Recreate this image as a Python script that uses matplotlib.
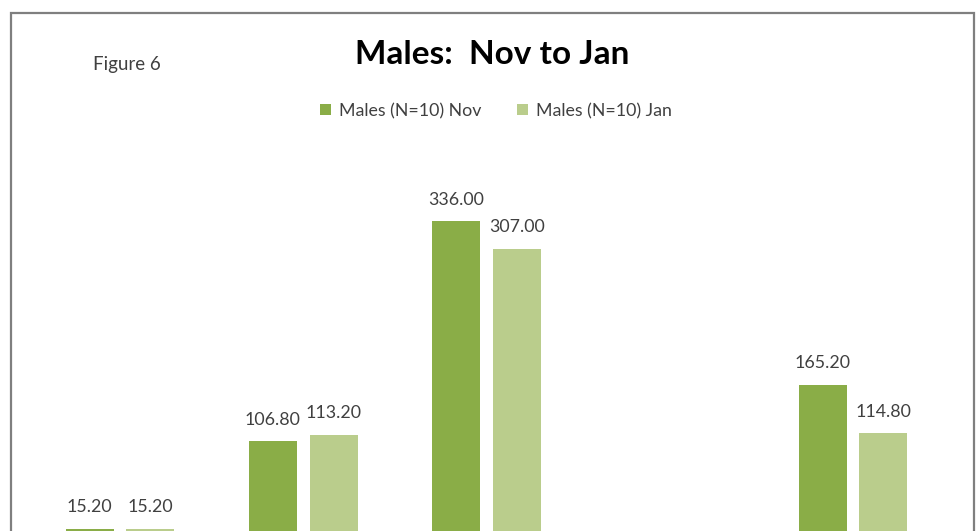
import matplotlib.pyplot as plt
import numpy as np
from matplotlib.patches import Rectangle

# values per group (4th group has no bars in the chart)
NOV = [15.20, 106.80, 336.00, np.nan, 165.20]
JAN = [15.20, 113.20, 307.00, np.nan, 114.80]
SERIES = ["Males (N=10) Nov", "Males (N=10) Jan"]
TITLE = "Males:  Nov to Jan"
NOTE = "Figure 6"

COLORS = ["#8aad47", "#bacd8c"]
TEXT = "#404040"
W, H = 978, 531

plt.rcParams["font.family"] = ["Lato", "DejaVu Sans"]

fig = plt.figure(figsize=(W / 100, H / 100), dpi=100)


def px_box(x0, y0, x1, y1):
    return [x0 / W, 1 - y1 / H, (x1 - x0) / W, (y1 - y0) / H]


# plot area runs below the visible crop, as in the reference
ax = fig.add_axes(px_box(28.4, 150, 944.6, 543.6))
x = np.arange(len(NOV))
width = 0.262
offset = 0.166
for vals, sign, color, label in ((NOV, -1, COLORS[0], SERIES[0]),
                                 (JAN, 1, COLORS[1], SERIES[1])):
    bars = ax.bar(x + sign * offset, vals, width=width, color=color, label=label)
    for bar, v in zip(bars, vals):
        if np.isnan(v):
            continue
        ax.annotate(f"{v:.2f}", (bar.get_x() + bar.get_width() / 2, v),
                    xytext=(0, 15.5), textcoords="offset points",
                    ha="center", va="center", fontsize=12.8, color=TEXT)
ax.set_xlim(-0.5, len(NOV) - 0.5)
ax.set_ylim(0, 410)
ax.axis("off")

fig.text(492 / W, 1 - 55 / H, TITLE, ha="center", va="center",
         fontsize=24, fontweight="bold", color="black")
fig.text(127 / W, 1 - 65 / H, NOTE, ha="center", va="center",
         fontsize=13.5, color=TEXT)

handles, labels = ax.get_legend_handles_labels()
fig.legend(handles, labels, loc="center", bbox_to_anchor=(496 / W, 1 - 111 / H),
           ncol=2, frameon=False, fontsize=12.8, handlelength=0.6, handleheight=0.6,
           handletextpad=0.45, columnspacing=2.0, labelcolor=TEXT)

fig.add_artist(Rectangle((11 / W, -0.05), (974 - 11) / W, 1.05 - 13 / H,
                         transform=fig.transFigure, fill=False,
                         edgecolor="#7f7f7f", linewidth=1.6))

fig.savefig("out.png", dpi=100)
